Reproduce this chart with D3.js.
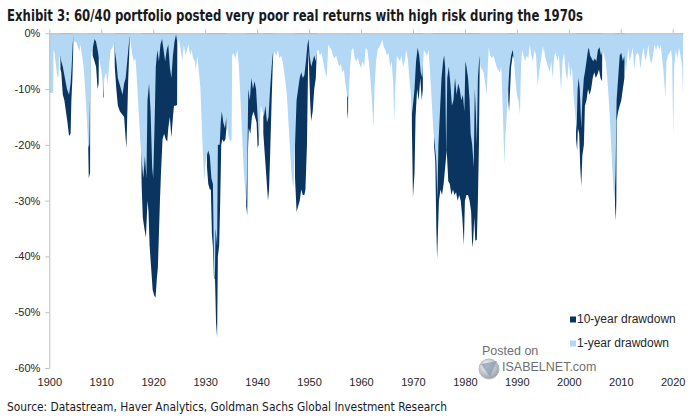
<!DOCTYPE html>
<html><head><meta charset="utf-8">
<script src="https://cdn.jsdelivr.net/npm/d3@7"></script>
<style>
html,body{margin:0;padding:0;background:#fff;}
svg{display:block;}
</style></head>
<body>
<svg id="chart" width="700" height="420"></svg>
<script>
// ---- DATA ----
const title = "Exhibit 3: 60/40 portfolio posted very poor real returns with high risk during the 1970s";
const source = "Source: Datastream, Haver Analytics, Goldman Sachs Global Investment Research";
const seriesNames = ["10-year drawdown", "1-year drawdown"];
const xTickYears = [1900,1910,1920,1930,1940,1950,1960,1970,1980,1990,2000,2010,2020];
const yTickValues = [0,-10,-20,-30,-40,-50,-60];

// 1-year drawdown, [year, %]
const oneYearDrawdown = [
[1900.0,-10.7],[1900.75,-10.7],[1900.8,-3],[1901.0,-3.5],[1901.2,-5],[1901.5,-7.5],[1901.75,-8],[1901.9,-4.5],[1902.1,-4],[1902.3,-5],[1902.6,-6],[1903.0,-8],[1903.4,-10],[1903.8,-11],[1904.1,-9],[1904.3,-6],[1904.5,-2],[1904.65,-0.3],[1904.8,-1.5],[1905.2,-1.5],[1905.5,-2.5],[1905.8,-3.2],[1906.0,-2],[1906.3,-4],[1906.6,-6],[1906.9,-10],[1907.2,-15],[1907.5,-20.5],[1907.7,-20],[1907.9,-8],[1908.1,-3.5],[1908.4,-2.5],[1908.7,-1],[1909.0,-1.5],[1909.3,-3],[1909.6,-4.5],[1909.9,-6],[1910.2,-8],[1910.4,-11],[1910.6,-8],[1910.9,-7],[1911.2,-9],[1911.5,-6],[1911.8,-3],[1912.2,-2.5],[1912.5,-1.5],
[1912.6,-3],[1912.9,-5],[1913.2,-8],[1913.5,-9],[1913.8,-10],[1914.1,-11],[1914.4,-9],[1914.7,-8],[1915.0,-5],[1915.3,-2],[1915.5,-0.5],[1915.7,-2],[1916.0,-4],[1916.3,-5],[1916.6,-4.5],[1916.9,-9],[1917.2,-14],[1917.5,-19],[1917.8,-23],[1918.1,-26],[1918.4,-22],[1918.7,-26],[1918.9,-12],[1919.2,-9],[1919.5,-14],[1919.8,-24],[1920.0,-26],[1920.3,-15],[1920.5,-6],[1920.8,-3],[1921.1,-5],[1921.4,-2],[1921.7,-1],[1922.0,-3],[1922.3,-5],[1922.6,-3],[1922.9,-2],[1923.2,-6],[1923.5,-8],[1923.8,-4],[1924.1,-1.5],[1924.4,-0.2],[1924.7,-2],
[1925.0,-1],[1925.3,-3],[1925.6,-5],[1925.9,-2],[1926.2,-4],[1926.5,-3],[1926.8,-2],[1927.1,-4],[1927.4,-3],[1927.7,-4.5],[1928.0,-5],[1928.2,-6.5],[1928.5,-4],[1928.8,-7],[1929.1,-10],[1929.4,-18],[1929.7,-24],[1929.85,-26.5],[1930.0,-24],[1930.3,-22],[1930.6,-21],[1930.9,-22],[1931.2,-26],[1931.5,-27],[1931.7,-42],[1931.85,-46],[1932.0,-35],[1932.3,-38],[1932.45,-20],[1932.8,-20],[1933.0,-16],[1933.2,-14],[1933.5,-16],[1933.8,-17],[1934.1,-15],[1934.4,-18],[1934.8,-19.5],[1935.1,-19],[1935.2,-4],[1935.5,-3.5],[1935.8,-4.5],[1936.2,-3],[1936.5,-6],[1936.8,-12],[1937.1,-18],[1937.4,-24],[1937.7,-28],[1937.9,-30],[1938.1,-25],[1938.3,-10],[1938.6,-12],[1938.9,-8],[1939.2,-10],[1939.5,-8.6],[1939.8,-10],[1940.1,-15],[1940.4,-19],[1940.7,-13],[1941.0,-14],[1941.3,-15],[1941.6,-13],[1941.9,-16],[1942.2,-15],[1942.5,-10],[1942.8,-6],[1943.1,-3],[1943.4,-3.5],[1943.7,-4],[1944.0,-3],[1944.3,-4.5],[1944.6,-4],[1944.9,-5],[1945.2,-7],[1945.5,-9],[1945.8,-12],[1946.1,-17],[1946.4,-22],[1946.7,-26],[1947.0,-27.7],[1947.3,-20],[1947.6,-12],[1947.9,-10],[1948.2,-8],[1948.5,-7],[1948.8,-8],[1949.1,-7.5],[1949.4,-5],[1949.7,-2],[1949.9,-1],[1950.1,-4],[1950.4,-6],[1950.7,-5],[1951.0,-4],[1951.3,-5],[1951.6,-3],
[1951.8,-3],[1952.1,-4],[1952.4,-3.5],[1952.7,-5],[1953.0,-6.5],[1953.4,-8],[1953.7,-2],[1954.0,-2.5],[1954.3,-3],[1954.6,-4],[1954.9,-4.5],[1955.2,-4],[1955.5,-5],[1955.8,-6],[1956.1,-5.5],[1956.4,-7],[1956.7,-6.5],[1957.0,-9],[1957.3,-11],[1957.6,-12],[1957.9,-6],[1958.2,-3],[1958.5,-2.6],[1958.8,-4.5],[1959.1,-5],[1959.4,-4.4],[1959.7,-5.5],[1960.0,-6.2],[1960.3,-5],[1960.6,-6],[1960.9,-2.6],[1961.2,-3],[1961.5,-5],[1961.8,-8],[1962.1,-12],[1962.4,-17],[1962.6,-10],[1962.9,-5],[1963.2,-3],[1963.5,-2.5],[1963.8,-2],[1964.1,-1.1],[1964.4,-2.5],[1964.7,-3],[1965.0,-4],[1965.3,-3.5],[1965.6,-6],[1965.9,-5],[1966.2,-9],[1966.4,-15.7],[1966.6,-10],[1966.9,-4],[1967.2,-4.5],[1967.5,-5],[1967.8,-4],[1968.1,-6],[1968.4,-5],[1968.7,-3],[1969.0,-4.5],[1969.3,-8],[1969.6,-11],[1969.8,-14.5],[1970.1,-12],[1970.3,-10],[1970.6,-5],[1970.9,-2.6],[1971.2,-4],[1971.5,-7],[1971.8,-8],[1972.1,-3],[1972.4,-3.5],[1972.7,-4],[1973.0,-3],[1973.3,-7],[1973.6,-12],[1973.9,-17],[1974.2,-20],[1974.5,-23],[1974.7,-30],
[1974.9,-20],[1975.2,-14],[1975.5,-8],[1975.8,-5],[1976.0,-4],[1976.2,-6],[1976.4,-22],[1976.6,-8],[1976.9,-6],[1977.2,-9],[1977.5,-13],[1977.8,-12],[1978.1,-8],[1978.4,-11],[1978.7,-9],[1979.0,-10],[1979.3,-12],[1979.6,-11],[1979.9,-14],[1980.1,-5],[1980.3,-6],[1980.6,-8],[1980.9,-12],[1981.1,-18],[1981.4,-20],[1981.7,-24],[1981.9,-10],[1982.1,-14],[1982.3,-20],[1982.5,-8],[1982.8,-4],[1983.0,-6],[1983.3,-6.5],[1983.6,-7],[1983.9,-9],[1984.2,-11],[1984.45,-5],[1984.6,-2.6],[1984.9,-4],[1985.2,-4.5],[1985.5,-4],[1985.8,-5],[1986.1,-6],[1986.4,-6.5],[1986.7,-7],[1987.0,-6],[1987.3,-14],[1987.6,-23.5],[1987.8,-18],[1988.0,-15.7],[1988.3,-10],[1988.6,-6],[1988.9,-4],[1989.2,-3],[1989.4,-4],[1989.7,-8],[1990.0,-11],[1990.3,-12],[1990.6,-14.5],[1990.8,-6],[1991.0,-3],[1991.3,-4],[1991.6,-5],[1991.9,-4],[1992.2,-4.5],[1992.5,-2],[1992.8,-4],[1993.1,-5],[1993.4,-3],[1993.7,-4],[1994.0,-9.5],[1994.3,-7],[1994.6,-5],[1994.9,-3],[1995.1,-2],[1995.4,-4],[1995.7,-5],[1996.0,-6],[1996.3,-7],[1996.6,-5],[1996.9,-8],[1997.2,-4],[1997.5,-3.5],[1997.8,-5],[1998.1,-4],[1998.5,-10.4],[1998.8,-5],[1999.1,-3.5],
[1999.4,-7],[1999.7,-8.5],[2000.0,-5],[2000.3,-8],[2000.6,-6],[2000.9,-11],[2001.2,-14],[2001.5,-17.5],[2001.7,-10],[2001.9,-8],[2002.1,-10],[2002.4,-17],[2002.6,-12],[2002.9,-8],[2003.1,-7],[2003.4,-5],[2003.7,-3],[2003.85,-2.6],[2004.1,-4],[2004.4,-4.5],[2004.7,-5],[2005.0,-4.5],[2005.3,-5],[2005.6,-3],[2005.9,-2.5],[2006.2,-4],[2006.5,-3],[2006.8,-4],[2007.1,-5],[2007.4,-8],[2007.7,-12],[2008.0,-17],[2008.3,-23],[2008.6,-28],[2008.8,-30],[2009.0,-25],[2009.2,-12],[2009.5,-8],[2009.8,-4],[2010.1,-3.5],[2010.4,-5],[2010.7,-4],[2011.0,-7],[2011.2,-5],[2011.45,-2.6],[2011.7,-5],[2012.0,-4],[2012.3,-2.6],[2012.6,-6.5],[2012.9,-4],[2013.2,-3.5],[2013.5,-4],[2013.8,-6.4],[2014.1,-4],[2014.4,-2.5],[2014.7,-5],[2015.0,-4],[2015.3,-2],[2015.6,-4.5],[2015.9,-5.5],[2016.2,-4],[2016.5,-2],[2016.8,-3],[2017.1,-2],[2017.4,-3],[2017.7,-2],[2017.9,-4],[2018.2,-6.5],[2018.6,-11.6],[2018.8,-5],[2019.1,-4],[2019.4,-3.5],[2019.7,-3],[2019.9,-5],[2020.1,-18.4],[2020.3,-6],[2020.6,-3],[2020.9,-4.5],[2021.2,-2.6],[2021.5,-4],[2021.8,-6],[2022.0,-11]
];

// 10-year drawdown, [year, %]
const tenYearDrawdown = [
[1900.0,0],[1902.1,0],[1902.15,-6.5],[1902.3,-7],[1902.6,-11],[1902.9,-12],[1903.2,-14],[1903.5,-16],[1903.8,-18.4],[1904.1,-18],[1904.25,-12],[1904.45,-8],[1904.6,-3],[1904.65,0],
[1907.45,0],[1907.5,-21],[1907.6,-26],[1907.85,-25],[1907.9,0],
[1908.3,0],[1908.35,-4],[1908.7,-5],[1909.0,-6],[1909.3,-10],[1909.5,-9],[1909.55,0],
[1910.35,0],[1910.4,-11.5],[1910.5,-11.5],[1910.55,0],
[1912.55,0],[1912.6,-6],[1912.9,-10],[1913.2,-13],[1913.6,-14],[1914.0,-14.5],[1914.4,-15],[1914.7,-19],[1914.85,-20.6],[1915.0,-15],[1915.2,-8],[1915.45,-2],[1915.5,0],
[1917.7,0],[1917.75,-26],[1917.8,-28],[1918.0,-33],[1918.3,-35],[1918.6,-36.6],[1918.9,-30],[1919.1,-32],[1919.3,-38],[1919.6,-42],[1919.9,-46],[1920.2,-47],[1920.45,-47.4],[1920.7,-44],[1920.9,-42],[1921.1,-36],[1921.3,-30],[1921.5,-25],[1921.8,-19],[1922.1,-18],[1922.4,-19],[1922.7,-19.4],[1922.9,-17],[1923.2,-15],[1923.5,-18.7],[1923.8,-15],[1924.0,-13],[1924.3,-13],[1924.6,-12.8],[1924.65,0],
[1930.3,0],[1930.35,-24],[1930.6,-27],[1930.9,-28],[1931.1,-28],[1931.3,-36],[1931.5,-38.4],[1931.7,-44],[1931.9,-44],[1932.1,-52],[1932.3,-54.5],[1932.45,-40],[1932.7,-38],[1932.9,-30],[1933.1,-20],[1933.3,-19],[1933.6,-19.5],[1933.9,-19],[1934.1,-17],[1934.2,0],
[1937.85,0],[1937.9,-31],[1938.1,-32.7],[1938.2,-22],[1938.4,-17],[1938.7,-18],[1939.0,-15],[1939.3,-14],[1939.6,-15],[1939.9,-16],[1940.1,-20.5],[1940.3,-20],[1940.4,0],
[1941.15,0],[1941.2,-18],[1941.5,-22],[1941.8,-26],[1942.1,-30],[1942.3,-28],[1942.5,-22],[1942.8,-12],[1943.0,-6],[1943.1,-4],[1943.15,0],
[1947.25,0],[1947.3,-26],[1947.6,-32],[1947.9,-31],[1948.2,-30],[1948.5,-28],[1948.8,-29],[1949.1,-29],[1949.3,-28],[1949.6,-20],[1949.85,-3],[1950.0,-6],[1950.2,-12],[1950.4,-15.7],[1950.7,-14],[1951.0,-10],[1951.3,-8],[1951.5,-3],[1951.55,0],
[1957.3,0],[1957.35,-14],[1957.5,-15.4],[1957.6,0],
[1969.75,0],[1969.8,-17],[1970.0,-29.5],[1970.3,-25],[1970.5,-15],[1970.8,-10],[1971.1,-12],[1971.4,-8],[1971.7,-12],[1971.9,-10],[1971.95,0],
[1974.0,0],[1974.05,-20],[1974.3,-23],[1974.5,-35],[1974.65,-40.5],[1974.8,-36],[1975.0,-30],[1975.3,-28],[1975.6,-29],[1975.9,-27],[1976.2,-24],[1976.5,-21],[1976.8,-26.5],[1977.1,-27],[1977.4,-29],[1977.7,-28],[1978.0,-29],[1978.3,-28.5],[1978.6,-30],[1978.9,-29],[1979.2,-30],[1979.5,-33],[1979.8,-38],[1980.0,-30],[1980.3,-29],[1980.6,-29],[1980.9,-30],[1981.2,-32],[1981.4,-38.4],[1981.6,-37],[1981.8,-33],[1982.0,-37.2],[1982.3,-37],[1982.5,-30],[1982.7,-20],[1982.85,-5],[1982.9,0],
[1988.3,0],[1988.35,-12],[1988.5,-14],[1988.7,-10],[1988.9,-6],[1989.2,-4],[1989.35,-4.5],[1989.4,0],
[1995.05,0],[1995.1,-3.8],[1995.15,0],
[2001.35,0],[2001.4,-19],[2001.6,-21],[2001.75,-17],[2002.0,-18],[2002.2,-24],[2002.4,-27.4],[2002.6,-22],[2002.9,-20],[2003.1,-13],[2003.4,-12],[2003.7,-10],[2004.0,-11],[2004.3,-10],[2004.6,-8],[2004.9,-7],[2005.2,-8],[2005.5,-7.4],[2005.8,-6.5],[2006.1,-8],[2006.4,-8.6],[2006.45,0],
[2008.85,0],[2008.9,-31],[2009.05,-33.6],[2009.15,-30],[2009.2,-15.7],[2009.5,-14],[2009.8,-13],[2010.1,-12],[2010.4,-10],[2010.7,-8],[2010.8,0],[2022.0,0]
];

// ---- DRAW ----
const colors = {dark:"#0b3561", light:"#b3d8f5", axis:"#bfbfbf", text:"#262626"};
const svg = d3.select("#chart");
const x = d3.scaleLinear().domain([1900, 2022]).range([49.3, 683.1]);
const y = d3.scaleLinear().domain([0, -60]).range([33.3, 368]);

const area = d3.area().x(d => x(d[0])).y0(y(0)).y1(d => y(d[1])).curve(d3.curveLinear);

svg.append("path").datum(tenYearDrawdown).attr("d", area).attr("fill", colors.dark);
svg.append("path").datum(oneYearDrawdown).attr("d", area).attr("fill", colors.light);

// y axis (left)
const yAxis = svg.append("g").attr("transform", `translate(${x(1900)},0)`)
  .call(d3.axisLeft(y).tickValues(yTickValues).tickFormat(d => d + "%").tickSize(4).tickSizeOuter(0).tickPadding(5));
yAxis.selectAll("path,line").attr("stroke", colors.axis);
yAxis.selectAll("text").attr("font-family", "'Liberation Sans', Arial, sans-serif").attr("font-size", 11).attr("fill", colors.text);

// top axis line with decade ticks at 0%
const topAxis = svg.append("g").attr("transform", `translate(0,${y(0)})`)
  .call(d3.axisTop(x).tickValues(xTickYears).tickFormat("").tickSize(4).tickSizeOuter(0));
topAxis.selectAll("path,line").attr("stroke", colors.axis);

// x labels at bottom
const xLab = svg.append("g").attr("transform", `translate(0,375.5)`)
  .call(d3.axisBottom(x).tickValues(xTickYears).tickFormat(d3.format("d")).tickSize(0).tickPadding(3));
xLab.select(".domain").remove();
xLab.selectAll("text").attr("font-family", "'Liberation Sans', Arial, sans-serif").attr("font-size", 11).attr("fill", colors.text);

// title
svg.append("text").attr("x", 7).attr("y", 21)
  .attr("font-family", "'DejaVu Sans Condensed', 'DejaVu Sans', sans-serif").attr("font-stretch", "condensed")
  .attr("font-weight", "bold").attr("font-size", 15.5).attr("fill", "#1a1a1a")
  .attr("textLength", 576).attr("lengthAdjust", "spacingAndGlyphs")
  .text(title);

// source
svg.append("text").attr("x", 7).attr("y", 411)
  .attr("font-family", "'DejaVu Sans Condensed', 'DejaVu Sans', sans-serif").attr("font-stretch", "condensed")
  .attr("font-size", 12.5).attr("fill", "#1a1a1a")
  .attr("textLength", 440).attr("lengthAdjust", "spacingAndGlyphs")
  .text(source);

// legend
const legend = svg.append("g").attr("font-family", "'Liberation Sans', Arial, sans-serif").attr("font-size", 12).attr("fill", colors.text);
[[seriesNames[0], colors.dark, 323], [seriesNames[1], colors.light, 347]].forEach(([name, c, by]) => {
  legend.append("rect").attr("x", 570).attr("y", by - 6.5).attr("width", 6).attr("height", 6).attr("fill", c);
  legend.append("text").attr("x", 577).attr("y", by).text(name);
});

// watermark
const wm = svg.append("g").attr("font-family", "'Liberation Sans', Arial, sans-serif").attr("fill", "#6f6f6f");
wm.append("text").attr("x", 482).attr("y", 355).attr("font-size", 12.5).text("Posted on");
const grad = svg.append("defs").append("radialGradient").attr("id", "lg").attr("cx", "40%").attr("cy", "35%").attr("r", "65%");
grad.append("stop").attr("offset", "0%").attr("stop-color", "#ffffff");
grad.append("stop").attr("offset", "100%").attr("stop-color", "#9aa3ab");
wm.append("circle").attr("cx", 489).attr("cy", 369).attr("r", 10).attr("fill", "url(#lg)").attr("stroke", "#b5bcc2");
wm.append("path").attr("d", "M481,364 L497,361 L490,377 Z").attr("fill", "#8ea0b4").attr("opacity", 0.8);
wm.append("text").attr("x", 502).attr("y", 371).attr("font-size", 12.5).text("ISABELNET.com");
</script>
</body></html>
